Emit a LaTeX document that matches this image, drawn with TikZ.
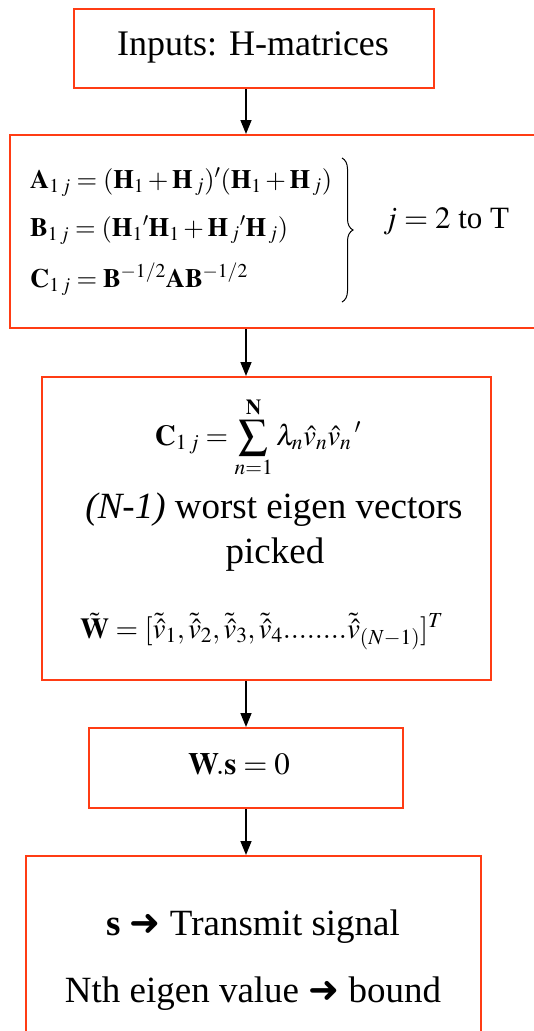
\documentclass[tikz,border=0pt]{standalone}
\usepackage{mathptmx}
\usepackage{fontspec}
\setmainfont{Liberation Serif}
\newfontfamily\arrfont{DejaVu Sans}
\usetikzlibrary{arrows.meta,decorations.pathreplacing}
\definecolor{boxred}{RGB}{255,60,20}
\newcommand{\fs}[1]{\fontsize{#1}{#1}\selectfont}
\newcommand{\rarr}{{\arrfont\bfseries ➜}}
\newcommand{\ap}{\mathrm{'}}
\begin{document}
\begin{tikzpicture}[x=1pt,y=-1pt,
  box/.style={draw=boxred, line width=2pt, rectangle, inner sep=0pt},
  flow/.style={draw=black, line width=1.5pt, -{Triangle[length=14pt,width=11pt]}},
  txt/.style={inner sep=0pt, text=black}]
\useasboundingbox (0,0) rectangle (533,1031);
\node[box, minimum width=360pt, minimum height=79pt] (b1) at (254,48.5) {};
\node[box, minimum width=535pt, minimum height=193pt] (b2) at (277.5,231.5) {};
\node[box, minimum width=449pt, minimum height=303pt] (b3) at (266.5,528.5) {};
\node[box, minimum width=314pt, minimum height=80pt] (b4) at (246,768) {};
\node[box, minimum width=455pt, minimum height=180pt] (b5) at (253.5,946) {};
\coordinate (ax) at (246,0);
\draw[flow] (b1.south -| ax) -- (b2.north -| ax);
\draw[flow] (b2.south -| ax) -- (b3.north -| ax);
\draw[flow] (b3.south -| ax) -- (b4.north -| ax);
\draw[flow] (b4.south -| ax) -- (b5.north -| ax);
% box 1
\node[txt, anchor=base] (t1) at (253,55) {\fs{36}Inputs: H-matrices};
% box 2
\node[txt, anchor=base west] (eA) at (30,188) {\fs{26.5}$\mathbf{A}_{1\,j}=(\mathbf{H}_{1}+\mathbf{H}_{\,j})\ap(\mathbf{H}_{1}+\mathbf{H}_{\,j})$};
\node[txt, anchor=base west] (eB) at (30,236) {\fs{26.5}$\mathbf{B}_{1\,j}=(\mathbf{H}_{1}\ap\mathbf{H}_{1}+\mathbf{H}_{\,j}\ap\mathbf{H}_{\,j})$};
\node[txt, anchor=base west] (eC) at (30,287) {\fs{26.5}$\mathbf{C}_{1\,j}=\mathbf{B}^{-1/2}\mathbf{A}\mathbf{B}^{-1/2}$};
\draw[line width=1pt, decorate, decoration={brace, amplitude=11pt}] (342,158) -- (342,302);
\node[txt, anchor=base west] (jr) at (383,228) {\fs{31}$j=2$ to T};
% box 3
\node[txt, anchor=base] (eS) at (258,445) {\fs{29}$\displaystyle\mathbf{C}_{1\,j}=\sum_{n=1}^{\mathbf{N}}\lambda_n\hat{v}_n\hat{v}_n\,\ap$};
\node[txt, anchor=base] (l1) at (274,518) {\fs{37}\textit{(N-1)} worst eigen vectors};
\node[txt, anchor=base] (l2) at (275,563) {\fs{37}picked};
\node[txt, anchor=base west] (eW) at (80,638) {\fs{29}$\tilde{\mathbf{W}}=[\tilde{\hat{v}}_1,\tilde{\hat{v}}_2,\tilde{\hat{v}}_3,\tilde{\hat{v}}_4{.}{.}{.}{.}{.}{.}{.}{.}\tilde{\hat{v}}_{(N-1)}]^T$};
% box 4
\node[txt, anchor=base] (ws) at (239,774) {\fs{31}$\mathbf{W}\!\mathbf{.s}=0$};
% box 5
\node[txt, anchor=base] (s1) at (253,935) {\fs{37}\textbf{s} \rarr{} Transmit signal};
\node[txt, anchor=base] (s2) at (253,1002) {\fs{37}Nth eigen value \rarr{} bound};
\end{tikzpicture}
\end{document}
